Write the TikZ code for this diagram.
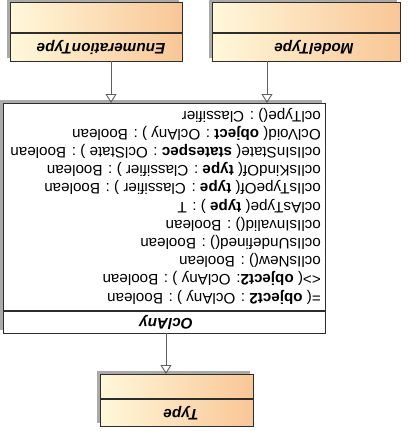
\documentclass[tikz,border=0pt]{standalone}
\usepackage{fontspec}
\setmainfont{Liberation Sans}
\usetikzlibrary{arrows.meta,calc,shadows}

\definecolor{boxlight}{RGB}{255,248,218}
\definecolor{boxdark}{RGB}{249,198,150}
\definecolor{edgeline}{RGB}{45,45,45}
\definecolor{wire}{RGB}{95,95,95}
\definecolor{shadowgray}{RGB}{170,170,170}

\newcommand\parm[1]{\textbf{#1}}

\tikzset{
  boxshadow/.style={drop shadow={shadow xshift=-4pt, shadow yshift=4pt, fill=shadowgray, opacity=1}},
  classbox/.style={draw=edgeline, line width=1.1pt, inner sep=0pt, anchor=north west,
                   left color=boxlight, right color=boxdark, boxshadow},
  plainbox/.style={draw=edgeline, line width=1.1pt, inner sep=0pt, anchor=north west,
                   fill=white, boxshadow},
  divider/.style={draw=edgeline, line width=1.1pt},
  classname/.style={rotate=180, inner sep=0pt, font=\fontsize{15.3}{18}\selectfont\bfseries\itshape},
  opline/.style={rotate=180, anchor=west, inner sep=0pt, font=\fontsize{15.2}{18}\selectfont},
  inherit/.style={draw=wire, line width=0.9pt,
                  -{Triangle[open, length=9pt, width=11pt, line width=0.9pt]}},
}

\begin{document}
\begin{tikzpicture}[x=1pt, y=-1pt]
\useasboundingbox (0,0) rectangle (407,431);

% class boxes
\node[classbox, minimum width=172pt, minimum height=59pt] (enum) at (10,2) {};
\node[classbox, minimum width=188pt, minimum height=59pt] (model) at (212,2) {};
\node[plainbox, minimum width=322pt, minimum height=230pt] (oclany) at (3,103) {};
\node[classbox, minimum width=153pt, minimum height=52pt] (type) at (100,374) {};

% compartment separators
\draw[divider] (10,33) -- (182,33);
\draw[divider] (212,33) -- (400,33);
\draw[divider] (3,311) -- (325,311);
\draw[divider] (100,399) -- (253,399);

% class names
\node[classname] (enumname) at (101,47) {EnumerationType};
\node[classname] (modelname) at (314,47) {ModelType};
\node[classname] (oclanyname) at (166,322) {OclAny};
\node[classname] (typename) at (181,413) {Type};

% operations of OclAny
\node[opline] (op1)  at (321,115.0) {oclType() : Classifier};
\node[opline] (op2)  at (321,133.2) {OclVoid( \parm{object} : OclAny ) : Boolean};
\node[opline] (op3)  at (321,151.4) {oclIsInState( \parm{statespec} : OclState ) : Boolean};
\node[opline] (op4)  at (321,169.6) {oclIsKindOf( \parm{type} : Classifier ) : Boolean};
\node[opline] (op5)  at (321,187.8) {oclIsTypeOf( \parm{type} : Classifier ) : Boolean};
\node[opline] (op6)  at (321,206.0) {oclAsType( \parm{type} ) : T};
\node[opline] (op7)  at (321,224.2) {oclIsInvalid() : Boolean};
\node[opline] (op8)  at (321,242.4) {oclIsUndefined() : Boolean};
\node[opline] (op9)  at (321,260.6) {oclIsNew() : Boolean};
\node[opline] (op10) at (321,278.8) {<>( \parm{object2}: OclAny ) : Boolean};
\node[opline] (op11) at (321,297.0) {=( \parm{object2} : OclAny ) : Boolean};

% generalisation connectors
\coordinate (enumout) at (111,61);
\coordinate (modelout) at (267,61);
\coordinate (oclanyout) at (166,333);
\draw[inherit] (enumout) -- (enumout |- oclany.north);
\draw[inherit] (modelout) -- (modelout |- oclany.north);
\draw[inherit] (oclanyout) -- (oclanyout |- type.north);
\end{tikzpicture}
\end{document}
